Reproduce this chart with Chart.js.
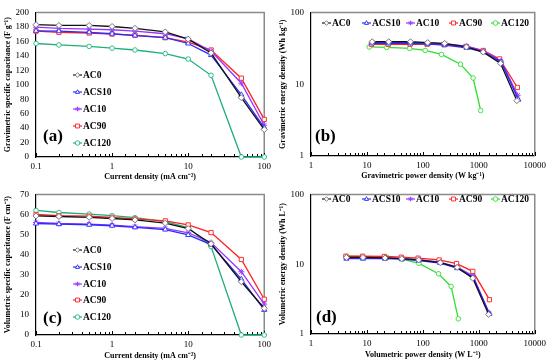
<!DOCTYPE html>
<html><head><meta charset="utf-8">
<script src="https://cdn.jsdelivr.net/npm/chart.js@4.4.1/dist/chart.umd.min.js"></script>
<style>
html,body{margin:0;padding:0;background:#fff;}
#wrap{position:relative;width:550px;height:364px;background:#fff;}
.p{position:absolute;width:275px;height:182px;}
canvas{display:block}
</style></head><body>
<div id="wrap">
<div class="p" style="left:0;top:0"><canvas id="ca" width="275" height="182"></canvas></div>
<div class="p" style="left:275px;top:0"><canvas id="cb" width="275" height="182"></canvas></div>
<div class="p" style="left:0;top:182px"><canvas id="cc" width="275" height="182"></canvas></div>
<div class="p" style="left:275px;top:182px"><canvas id="cd" width="275" height="182"></canvas></div>
</div>
<script>
// ---------- data ----------
const seriesNames = ['AC0','ACS10','AC10','AC90','AC120'];
const currentDensity = [0.1,0.2,0.5,1,2,5,10,20,50,100];

// (a) gravimetric specific capacitance (F g-1)
const gravCapAC0   = [183,182,182,180.5,178,173,163,144,82,38];
const gravCapACS10 = [174.5,174,172.5,170.5,168,165,157,141,86,40.5];
const gravCapAC10  = [179.5,178,177,176,174,170.5,163.5,146.5,102,44];
const gravCapAC90  = [174,172.5,171.5,170,168.5,165,159,148,109,52];
const gravCapAC120 = [157,155,153,150.5,148,143,135.5,113,0,0];

// (c) volumetric specific capacitance (F cm-3)
const volCapAC0   = [59.3,59,58.6,58,57.3,55.7,53,45.4,26.5,13.3];
const volCapACS10 = [55.5,55.2,54.9,54.4,53.6,52.5,49.8,45,27.8,12.5];
const volCapAC10  = [56,55.5,55.2,54.7,54,53.1,50.9,46,31.5,15.4];
const volCapAC90  = [60,59.4,59.2,58.6,57.8,56.8,54.8,51,37.6,17.8];
const volCapAC120 = [62,61,60.2,59.4,58.4,56.5,53.5,44,0,0];

// (b) gravimetric power (W kg-1) / energy (Wh kg-1)
const gPowAC0   = [12.4,24.5,60,122,245,600,1200,2450,4800];
const gEnAC0    = [39,39,39,38,37,33,28,19.5,5.9];
const gPowACS10 = [12.3,24.5,60,121,245,610,1220,2500,5100];
const gEnACS10  = [37,37,37,36.5,35,32,28,20.5,6.1];
const gPowAC10  = [12.4,24.5,60,122,245,610,1220,2500,4950];
const gEnAC10   = [38,38,38,37.5,36.5,34,29,21,7];
const gPowAC90  = [12,24,59,119,240,590,1200,2350,4900];
const gEnAC90   = [36,36,36,36,35.5,33.5,29.5,22.5,9];
const gPowAC120 = [11,22.5,58,110,215,470,790,1080];
const gEnAC120  = [33,32.5,31.5,29.5,26,19,12.2,4.3];

// (d) volumetric power (W L-1) / energy (Wh L-1)
const vPowAC0   = [4.3,8.5,21,42,84,205,410,780,1500];
const vEnAC0    = [12.5,12.5,12.3,12,11.5,10.5,9,6.3,1.9];
const vPowACS10 = [4.3,8.5,21,42,84,205,410,790,1550];
const vEnACS10  = [12,12,12,11.8,11.3,10.4,8.8,6.5,1.95];
const vPowAC10  = [4.3,8.5,21,42,84,205,410,790,1520];
const vEnAC10   = [12.3,12.3,12.2,12,11.6,10.7,9.1,6.8,2.0];
const vPowAC90  = [4.2,8.4,20.5,41,82,195,400,780,1550];
const vEnAC90   = [13,13,12.9,12.6,12.2,11.5,10.2,7.9,3.1];
const vPowAC120 = [4.3,8.4,23,43,85,190,320,430];
const vEnAC120  = [13,12.8,12.5,11.8,10.3,7.3,4.8,1.65];

const capTicksA = [0,20,40,60,80,100,120,140,160,180,200];
const capTicksC = [0,10,20,30,40,50,60,70];

// ---------- styles ----------
const FONT = '"Liberation Serif","Times New Roman",serif';
const lineColors = ['#111111','#2a2aff','#9933ff','#ff2020','#1fae78'];
const lineColorsBD = ['#111111','#2a2aff','#9933ff','#ff2020','#33dd33'];
const markerColors = ['#777777','#3a3aff','#a040ff','#ff3030','#2fbf88'];
const markerColorsBD = ['#777777','#3a3aff','#a040ff','#ff3030','#44e044'];
const pointStyles = ['rectRot','triangle','star','rect','circle'];

function pts(xs, ys){ return xs.map((x,i)=>({x:x, y:ys[i]})); }

function drawMarker(ctx, style, x, y, r, stroke){
  ctx.save();
  ctx.strokeStyle = stroke; ctx.fillStyle = '#fff'; ctx.lineWidth = 1;
  ctx.beginPath();
  if (style==='circle'){ ctx.arc(x,y,r,0,Math.PI*2); ctx.fill(); ctx.stroke(); }
  else if (style==='rect'){ const s=r*0.85; ctx.rect(x-s,y-s,2*s,2*s); ctx.fill(); ctx.stroke(); }
  else if (style==='rectRot'){ ctx.moveTo(x,y-r); ctx.lineTo(x+r,y); ctx.lineTo(x,y+r); ctx.lineTo(x-r,y); ctx.closePath(); ctx.fill(); ctx.stroke(); }
  else if (style==='triangle'){ ctx.moveTo(x,y-r); ctx.lineTo(x+r*0.9,y+r*0.6); ctx.lineTo(x-r*0.9,y+r*0.6); ctx.closePath(); ctx.fill(); ctx.stroke(); }
  else if (style==='star'){ ctx.moveTo(x-r,y); ctx.lineTo(x+r,y); ctx.moveTo(x,y-r); ctx.lineTo(x,y+r);
    const d=r*0.7; ctx.moveTo(x-d,y-d); ctx.lineTo(x+d,y+d); ctx.moveTo(x-d,y+d); ctx.lineTo(x+d,y-d); ctx.stroke(); }
  ctx.restore();
}

function isPow10(v){ const l=Math.log10(v); return Math.abs(l-Math.round(l))<1e-6; }
function fmtPow(v){ return v>=1 ? String(Math.round(v)) : String(+v.toPrecision(1)); }

function makeDatasets(xsList, ysList, lc, mc){
  return seriesNames.map((n,i)=>({
    label:n, data:pts(xsList[i], ysList[i]),
    borderColor:lc[i], backgroundColor:'#fff',
    pointBorderColor:mc[i], pointBackgroundColor:'#fff',
    pointStyle:pointStyles[i], pointRadius: pointStyles[i]==='circle'?2.3:3,
    pointBorderWidth:1, borderWidth:1.3, clip:false, tension:0
  }));
}

const W = 275, H = 182;
function makeChart(id, cfg){
  const plugins = [{
    id:'frame',
    beforeDatasetsDraw(chart){
      const a=chart.chartArea, ctx=chart.ctx;
      ctx.save(); ctx.strokeStyle='#8a8a8a'; ctx.lineWidth=1.5;
      ctx.beginPath(); ctx.moveTo(a.left,a.top); ctx.lineTo(a.right,a.top); ctx.lineTo(a.right,a.bottom); ctx.stroke();
      const xs=chart.scales.x; ctx.strokeStyle='#000'; ctx.lineWidth=1;
      xs.ticks.forEach(t=>{ const px=Math.round(xs.getPixelForValue(t.value))+0.5;
        ctx.beginPath(); ctx.moveTo(px,a.bottom); ctx.lineTo(px,a.bottom-(isPow10(t.value)?4:3)); ctx.stroke(); });
      ctx.restore();
    }
  },{
    id:'legendAndLabel',
    afterDraw(chart){
      const ctx=chart.ctx;
      chart.data.datasets.forEach((ds,i)=>{
        const p=cfg.legendPos[i];
        ctx.save();
        ctx.strokeStyle=ds.borderColor; ctx.lineWidth=1.2;
        ctx.beginPath(); ctx.moveTo(p.x,p.y); ctx.lineTo(p.x+9,p.y); ctx.stroke();
        drawMarker(ctx, ds.pointStyle, p.x+4.5, p.y, 2.3, ds.pointBorderColor);
        ctx.fillStyle='#000'; ctx.font='bold 9.5px '+FONT; ctx.textBaseline='middle'; ctx.textAlign='left';
        ctx.fillText(ds.label, p.x+10, p.y+0.5);
        ctx.restore();
      });
      ctx.save(); ctx.fillStyle='#000'; ctx.font='bold 17px '+FONT; ctx.textBaseline='middle';
      ctx.fillText(cfg.panel, cfg.panelPos.x, cfg.panelPos.y); ctx.restore();
    }
  }];
  const yScale = cfg.yLog ? {
      type:'logarithmic', min:cfg.yMin, max:cfg.yMax,
      ticks:{autoSkip:false, color:'#000', font:{family:FONT,size:9}, padding:7, callback:v=>isPow10(v)?fmtPow(v):''}
    } : {
      type:'linear', min:cfg.yMin, max:cfg.yMax,
      afterBuildTicks:s=>{ s.ticks = cfg.yTicks.map(v=>({value:v})); },
      ticks:{color:'#000', font:{family:FONT,size:9}, padding:7}
    };
  Object.assign(yScale, {
    position:'left', grid:{display:false, drawTicks:false, tickLength:0}, border:{color:'#000', width:1.2},
    title:{display:true, text:cfg.yTitle, color:'#000', font:{family:FONT,size:8,weight:'bold'}, padding:{top:3,bottom:0}},
    afterFit:s=>{ s.width = cfg.left; }
  });
  const chart = new Chart(document.getElementById(id), {
    type:'line',
    data:{datasets:cfg.datasets},
    options:{
      responsive:false, animation:false, devicePixelRatio:1,
      layout:{padding:{top:cfg.top, right:cfg.right, bottom:0, left:0}},
      plugins:{legend:{display:false}, tooltip:{enabled:false}},
      scales:{
        x:{type:'logarithmic', min:cfg.xMin, max:cfg.xMax, position:'bottom',
          grid:{display:false, drawTicks:false, tickLength:0}, border:{color:'#000', width:1.2},
          ticks:{autoSkip:false, maxRotation:0, color:'#000', font:{family:FONT,size:9}, padding:4,
            callback:v=>isPow10(v)?fmtPow(v):''},
          title:{display:true, text:cfg.xTitle, color:'#000', font:{family:FONT,size:8,weight:'bold'}, padding:{top:0,bottom:cfg.xTitlePad}},
          afterFit:s=>{ s.height = H - cfg.bottom; }
        },
        y:yScale
      }
    },
    plugins:plugins
  });
  // correct layout so the plot area lands where the reference has it
  for (let k=0;k<3;k++){
    const a = chart.chartArea;
    const dt = cfg.top - a.top, dr = a.right - (W - cfg.right);
    if (Math.abs(dt)<0.5 && Math.abs(dr)<0.5) break;
    chart.options.layout.padding.top += dt;
    chart.options.layout.padding.right += dr;
    chart.update('none');
  }
  return chart;
}

// (a)
makeChart('ca', {
  datasets: makeDatasets(
    [currentDensity,currentDensity,currentDensity,currentDensity,currentDensity],
    [gravCapAC0,gravCapACS10,gravCapAC10,gravCapAC90,gravCapAC120], lineColors, markerColors),
  xMin:0.1, xMax:100, yMin:0, yMax:200, yTicks:capTicksA,
  xTitle:'Current density (mA cm\u207B\u00B2)', yTitle:'Gravimetric specific capacitance (F g\u207B\u00B9)',
  left:36, right:7, top:9, bottom:157, xTitlePad:0,
  legendPos:[{x:73,y:75},{x:73,y:92},{x:73,y:109},{x:73,y:126},{x:73,y:143}],
  panel:'(a)', panelPos:{x:43,y:137}
});
// (b)
makeChart('cb', {
  datasets: makeDatasets(
    [gPowAC0,gPowACS10,gPowAC10,gPowAC90,gPowAC120],
    [gEnAC0,gEnACS10,gEnAC10,gEnAC90,gEnAC120], lineColorsBD, markerColorsBD),
  yLog:true, xMin:1, xMax:10000, yMin:1, yMax:100,
  xTitle:'Gravimetric power density (W kg\u207B\u00B9)', yTitle:'Gravimetric energy density (Wh kg\u207B\u00B9)',
  left:36, right:13, top:10, bottom:156, xTitlePad:1,
  legendPos:[{x:47,y:23},{x:87,y:23},{x:131,y:23},{x:174,y:23},{x:216,y:23}],
  panel:'(b)', panelPos:{x:40,y:137}
});
// (c)
makeChart('cc', {
  datasets: makeDatasets(
    [currentDensity,currentDensity,currentDensity,currentDensity,currentDensity],
    [volCapAC0,volCapACS10,volCapAC10,volCapAC90,volCapAC120], lineColors, markerColors),
  xMin:0.1, xMax:100, yMin:0, yMax:70, yTicks:capTicksC,
  xTitle:'Current density (mA cm\u207B\u00B2)', yTitle:'Volumetric specific capacitance (F cm\u207B\u00B3)',
  left:36, right:7, top:7, bottom:153, xTitlePad:3,
  legendPos:[{x:73,y:68},{x:73,y:85},{x:73,y:102},{x:73,y:118},{x:73,y:135}],
  panel:'(c)', panelPos:{x:43,y:137}
});
// (d)
makeChart('cd', {
  datasets: makeDatasets(
    [vPowAC0,vPowACS10,vPowAC10,vPowAC90,vPowAC120],
    [vEnAC0,vEnACS10,vEnAC10,vEnAC90,vEnAC120], lineColorsBD, markerColorsBD),
  yLog:true, xMin:1, xMax:10000, yMin:1, yMax:100,
  xTitle:'Volumetric power density (W L\u207B\u00B9)', yTitle:'Volumetric energy density (Wh L\u207B\u00B9)',
  left:36, right:13, top:5, bottom:152, xTitlePad:4,
  legendPos:[{x:47,y:17},{x:87,y:17},{x:131,y:17},{x:174,y:17},{x:216,y:17}],
  panel:'(d)', panelPos:{x:41,y:136}
});
</script>
</body></html>
